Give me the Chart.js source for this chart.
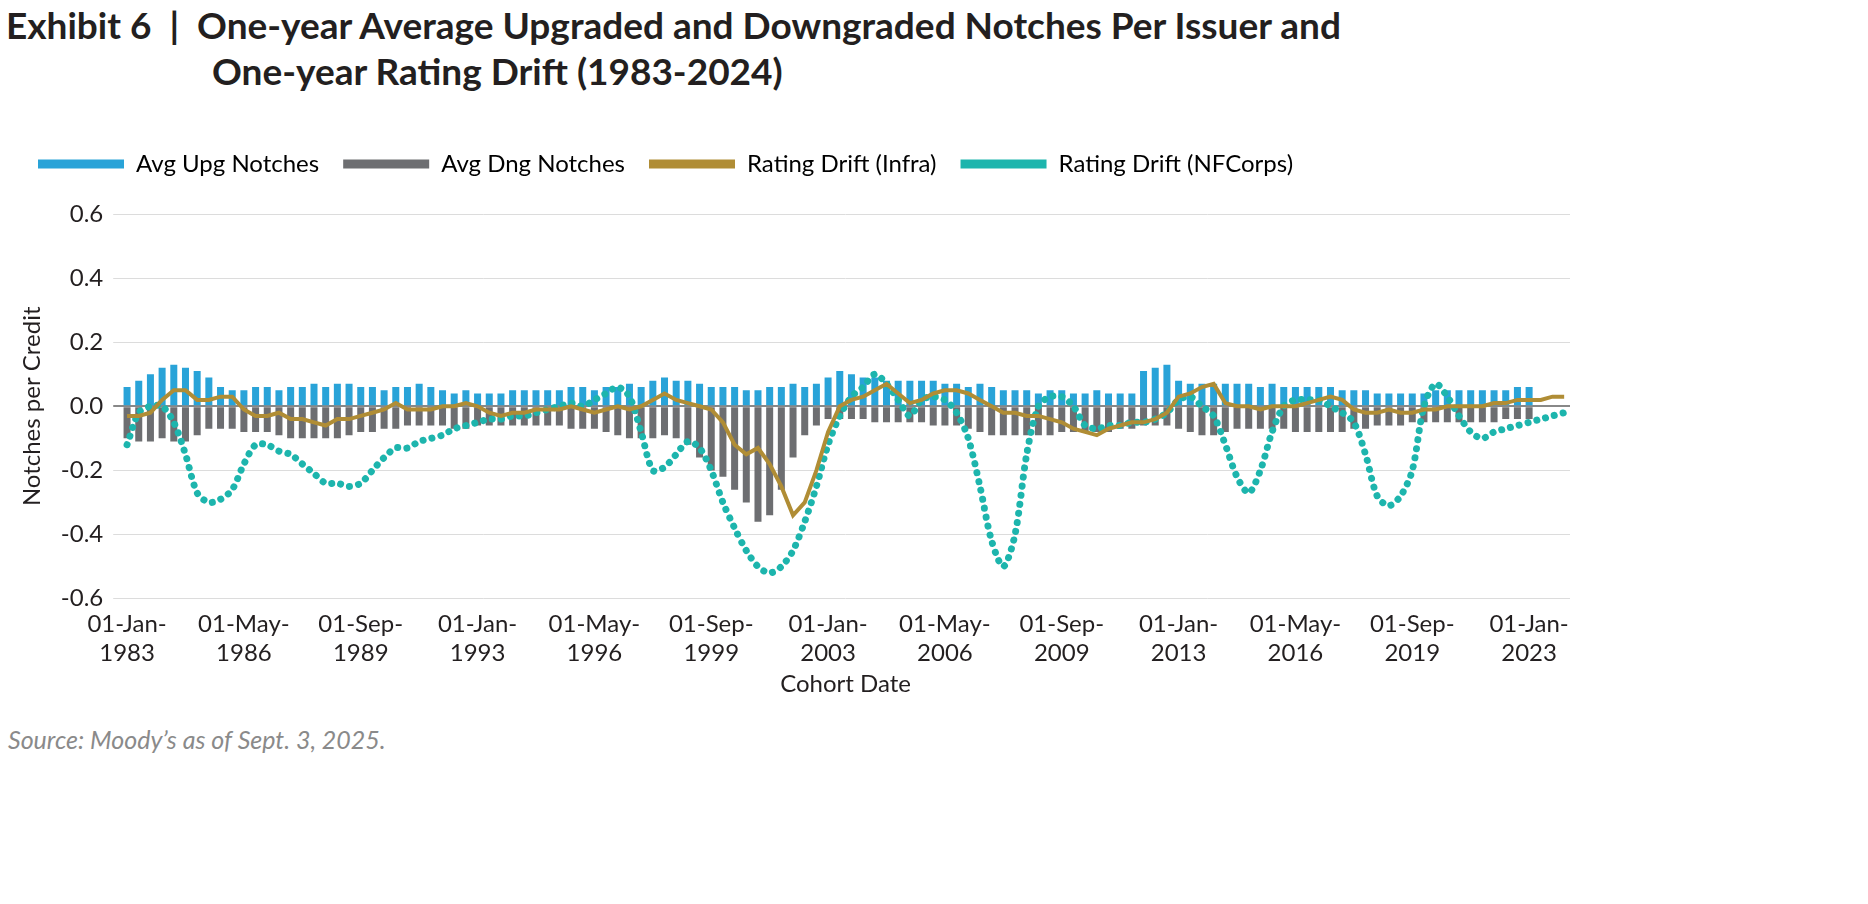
<!DOCTYPE html>
<html>
<head>
<meta charset="utf-8">
<script src="https://cdn.jsdelivr.net/npm/chart.js@4.4.1/dist/chart.umd.min.js"></script>
<style>
  body { margin: 0; background: #fff; font-family: Lato, "Noto Sans", sans-serif; }
  #title { position: absolute; left: 6px; top: 2px; font-size: 37px; font-weight: 700; color: #231f20; line-height: 46px; }
  #title .t2 { padding-left: 206px; }
  #wrap { position: absolute; left: 0; top: 128px; width: 1580px; height: 575px; }
  #source { position: absolute; left: 8px; top: 724px; font-size: 25px; font-style: italic; color: #8a8a8a; }
</style>
</head>
<body>
<div id="title">Exhibit 6 &nbsp;|&nbsp; One-year Average Upgraded and Downgraded Notches Per Issuer and<br><span class="t2">One-year Rating Drift (1983-2024)</span></div>
<div id="wrap"><canvas id="chart"></canvas></div>
<div id="source">Source: Moody’s as of Sept. 3, 2025.</div>
<script>
// cohort dates every 4 months (Jan, May, Sep), 1983 to Jan 2024
const MONTHS = ['Jan', 'May', 'Sep'];
const cohorts = [];
for (let y = 1983; y <= 2024; y++) {
  for (const m of MONTHS) {
    if (y === 2024 && m !== 'Jan') break;
    cohorts.push(`01-${m}-${y}`);
  }
}

const avgUpg = [
  0.06, 0.08, 0.10,  0.12, 0.13, 0.12,  0.11, 0.09, 0.06,  0.05, 0.05, 0.06,
  0.06, 0.05, 0.06,  0.06, 0.07, 0.06,  0.07, 0.07, 0.06,  0.06, 0.05, 0.06,
  0.06, 0.07, 0.06,  0.05, 0.04, 0.05,  0.04, 0.04, 0.04,  0.05, 0.05, 0.05,
  0.05, 0.05, 0.06,  0.06, 0.05, 0.06,  0.06, 0.07, 0.06,  0.08, 0.09, 0.08,
  0.08, 0.07, 0.06,  0.06, 0.06, 0.05,  0.05, 0.06, 0.06,  0.07, 0.06, 0.07,
  0.09, 0.11, 0.10,  0.09, 0.09, 0.08,  0.08, 0.08, 0.08,  0.08, 0.07, 0.07,
  0.06, 0.07, 0.06,  0.05, 0.05, 0.05,  0.04, 0.05, 0.05,  0.04, 0.04, 0.05,
  0.04, 0.04, 0.04,  0.11, 0.12, 0.13,  0.08, 0.07, 0.07,  0.07, 0.07, 0.07,
  0.07, 0.06, 0.07,  0.06, 0.06, 0.06,  0.06, 0.06, 0.05,  0.05, 0.05, 0.04,
  0.04, 0.04, 0.04,  0.04, 0.05, 0.05,  0.05, 0.05, 0.05,  0.05, 0.05, 0.06,
  0.06
];

const avgDng = [
  -0.10, -0.11, -0.11,  -0.10, -0.11, -0.11,  -0.09, -0.07, -0.07,  -0.07, -0.08, -0.08,
  -0.08, -0.09, -0.10,  -0.10, -0.10, -0.10,  -0.10, -0.09, -0.08,  -0.08, -0.07, -0.07,
  -0.06, -0.06, -0.06,  -0.06, -0.07, -0.07,  -0.06, -0.06, -0.06,  -0.06, -0.06, -0.06,
  -0.06, -0.06, -0.07,  -0.07, -0.07, -0.08,  -0.09, -0.10, -0.10,  -0.10, -0.09, -0.10,
  -0.12, -0.16, -0.20,  -0.22, -0.26, -0.30,  -0.36, -0.34, -0.26,  -0.16, -0.09, -0.06,
  -0.04, -0.04, -0.04,  -0.04, -0.05, -0.05,  -0.05, -0.05, -0.05,  -0.06, -0.06, -0.06,
  -0.07, -0.08, -0.09,  -0.09, -0.09, -0.09,  -0.09, -0.09, -0.08,  -0.08, -0.08, -0.08,
  -0.08, -0.07, -0.07,  -0.06, -0.06, -0.06,  -0.07, -0.08, -0.09,  -0.09, -0.08, -0.07,
  -0.07, -0.07, -0.07,  -0.07, -0.08, -0.08,  -0.08, -0.08, -0.08,  -0.07, -0.07, -0.06,
  -0.06, -0.06, -0.05,  -0.05, -0.05, -0.05,  -0.05, -0.05, -0.05,  -0.05, -0.04, -0.04,
  -0.04
];

const driftInfra = [
  -0.03, -0.03, -0.02,  0.02, 0.05, 0.05,  0.02, 0.02, 0.03,  0.03, -0.01, -0.03,
  -0.03, -0.02, -0.04,  -0.04, -0.05, -0.06,  -0.04, -0.04, -0.03,  -0.02, -0.01, 0.01,
  -0.01, -0.01, -0.01,  0.00, 0.00, 0.01,  0.00, -0.02, -0.03,  -0.02, -0.02, -0.01,
  -0.01, -0.01, 0.00,  -0.01, -0.02, -0.01,  0.00, -0.01, 0.00,  0.02, 0.04, 0.02,
  0.01, 0.00, -0.01,  -0.05, -0.12, -0.15,  -0.13, -0.18, -0.25,  -0.34, -0.30, -0.20,
  -0.08, 0.00, 0.02,  0.03, 0.05, 0.07,  0.04, 0.01, 0.02,  0.04, 0.05, 0.05,
  0.04, 0.02, 0.00,  -0.02, -0.02, -0.03,  -0.03, -0.04, -0.05,  -0.07, -0.08, -0.09,
  -0.07, -0.06, -0.05,  -0.05, -0.04, -0.02,  0.03, 0.04, 0.06,  0.07, 0.01, 0.00,
  0.00, -0.01, 0.00,  0.00, 0.00, 0.01,  0.02, 0.03, 0.02,  -0.01, -0.02, -0.02,
  -0.01, -0.02, -0.02,  -0.01, -0.01, 0.00,  0.00, 0.00, 0.00,  0.01, 0.01, 0.02,
  0.02, 0.02, 0.03,  0.03
];

const driftNF = [
  -0.12, -0.02, 0.00,  0.00, -0.05, -0.15,  -0.27, -0.30, -0.29,  -0.26, -0.18, -0.12,
  -0.12, -0.14, -0.15,  -0.18, -0.21, -0.24,  -0.24, -0.25, -0.24,  -0.20, -0.16, -0.13,
  -0.13, -0.11, -0.10,  -0.09, -0.07, -0.06,  -0.05, -0.04, -0.04,  -0.03, -0.03, -0.02,
  -0.01, 0.00, 0.01,  0.00, 0.02, 0.04,  0.06, 0.03, -0.08,  -0.20, -0.19, -0.15,
  -0.11, -0.13, -0.20,  -0.30, -0.38, -0.45,  -0.50, -0.52, -0.50,  -0.45, -0.36, -0.25,
  -0.12, -0.03, 0.03,  0.06, 0.10, 0.07,  0.02, -0.03, 0.02,  0.03, 0.02, -0.02,
  -0.10, -0.25, -0.42,  -0.50, -0.40, -0.15,  0.00, 0.03, 0.03,  0.00, -0.06, -0.07,
  -0.06, -0.06, -0.05,  -0.05, -0.04, -0.02,  0.02, 0.03, 0.00,  -0.03, -0.12, -0.22,
  -0.27, -0.20, -0.08,  0.00, 0.02, 0.02,  0.02, 0.00, -0.02,  -0.05, -0.15, -0.28,
  -0.31, -0.28, -0.20,  0.00, 0.07, 0.03,  -0.03, -0.08, -0.10,  -0.08, -0.07, -0.06,
  -0.05, -0.04, -0.03,  -0.02
];

const yTicks = [-0.6, -0.4, -0.2, 0.0, 0.2, 0.4, 0.6];

const FONT = 'Lato, "Noto Sans", sans-serif';
const TEXT = '#231f20';

// extra space under the legend
const legendGap = {
  id: 'legendGap',
  beforeInit(chart) {
    const fit = chart.legend.fit;
    chart.legend.fit = function () {
      fit.bind(chart.legend)();
      this.height += 28;
    };
  }
};

new Chart(document.getElementById('chart'), {
  data: {
    labels: cohorts,
    datasets: [
      { type: 'bar', label: 'Avg Upg Notches', data: avgUpg, backgroundColor: '#29a3d8',
        barPercentage: 0.6, categoryPercentage: 1, grouped: false, order: 2 },
      { type: 'bar', label: 'Avg Dng Notches', data: avgDng, backgroundColor: '#6d6e71',
        barPercentage: 0.6, categoryPercentage: 1, grouped: false, order: 2 },
      { type: 'line', label: 'Rating Drift (Infra)', data: driftInfra, borderColor: '#b08d35',
        backgroundColor: '#b08d35', borderWidth: 4, pointRadius: 0, tension: 0, order: 0 },
      { type: 'line', label: 'Rating Drift (NFCorps)', data: driftNF, borderColor: '#1db5ad',
        backgroundColor: '#1db5ad', borderWidth: 7, borderDash: [0.1, 9], borderCapStyle: 'round',
        pointRadius: 0, tension: 0.3, order: 1 }
    ]
  },
  plugins: [legendGap],
  options: {
    responsive: true,
    maintainAspectRatio: false,
    animation: false,
    layout: { padding: { left: 14, right: 10 } },
    plugins: {
      legend: {
        position: 'top',
        align: 'start',
        labels: {
          font: { family: FONT, size: 24 },
          color: TEXT,
          boxWidth: 86,
          boxHeight: 9,
          padding: 24,
          generateLabels: chart => chart.data.datasets.map((ds, i) => ({
            text: ds.label,
            fillStyle: ds.backgroundColor,
            strokeStyle: ds.backgroundColor,
            lineWidth: 0,
            datasetIndex: i
          }))
        }
      },
      tooltip: { enabled: false }
    },
    scales: {
      x: {
        title: { display: true, text: 'Cohort Date', font: { family: FONT, size: 24 }, color: TEXT, padding: { top: 0 } },
        grid: { display: false },
        border: { display: false },
        ticks: {
          autoSkip: false, maxRotation: 0, color: TEXT,
          font: { family: FONT, size: 24 },
          callback: (v, i) => {
            if (i % 10 !== 0) return null;
            const p = cohorts[i].split('-');
            return [`${p[0]}-${p[1]}-`, p[2]];
          }
        }
      },
      y: {
        min: -0.6, max: 0.6,
        afterBuildTicks: axis => { axis.ticks = yTicks.map(v => ({ value: v })); },
        title: { display: true, text: 'Notches per Credit', font: { family: FONT, size: 24 }, color: TEXT },
        border: { display: false },
        grid: { color: ctx => ctx.tick.value === 0 ? '#888' : '#dcdcdc', lineWidth: ctx => ctx.tick.value === 0 ? 2 : 1 },
        ticks: { color: TEXT, font: { family: FONT, size: 24 }, padding: 10, callback: v => v.toFixed(1) }
      }
    }
  }
});
</script>
</body>
</html>
